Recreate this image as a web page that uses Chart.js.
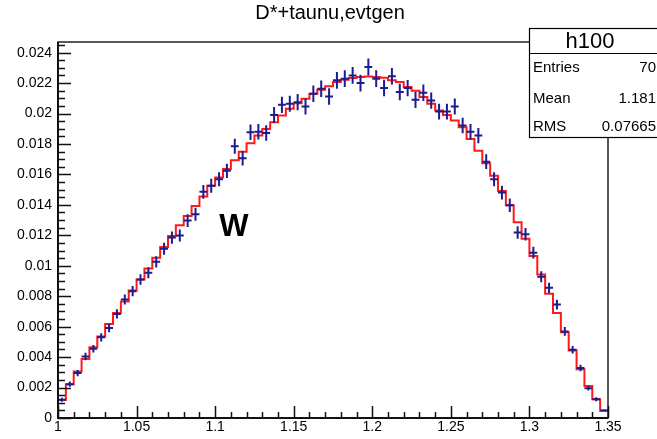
<!DOCTYPE html>
<html>
<head>
<meta charset="utf-8">
<script src="https://cdn.jsdelivr.net/npm/chart.js@4.4.1/dist/chart.umd.min.js"></script>
<style>
  html, body { margin: 0; padding: 0; background: #fff; }
</style>
</head>
<body>
<canvas id="histChart" width="657" height="439"></canvas>
<script>
// binning
const xMin = 1.0;
const xMax = 1.35;
const nBins = 70;
const yMax = 0.0247;

// red histogram (MC shape), one value per bin
const mcValues = [
  0.00119, 0.00222, 0.00305, 0.00387, 0.00464, 0.00536, 0.00618, 0.00690, 0.00765, 0.00837,
  0.00910, 0.00982, 0.01053, 0.01123, 0.01195, 0.01266, 0.01327, 0.01393, 0.01455, 0.01525,
  0.01580, 0.01635, 0.01694, 0.01749, 0.01805, 0.01855, 0.01899, 0.01943, 0.01987, 0.02031,
  0.02068, 0.02097, 0.02130, 0.02156, 0.02180, 0.02207, 0.02222, 0.02233, 0.02240, 0.02244,
  0.02240, 0.02235, 0.02218, 0.02207, 0.02174, 0.02150, 0.02108, 0.02064, 0.02020, 0.01990,
  0.01955, 0.01910, 0.01833, 0.01756, 0.01673, 0.01591, 0.01492, 0.01398, 0.01286, 0.01178,
  0.01064, 0.00943, 0.00816, 0.00690, 0.00563, 0.00444, 0.00321, 0.00211, 0.00123, 0.00048
];

// blue points (evtgen), one value per bin
const dataValues = [
  0.00120, 0.00222, 0.00295, 0.00404, 0.00455, 0.00530, 0.00591, 0.00684, 0.00778, 0.00833,
  0.00910, 0.00954, 0.01026, 0.01112, 0.01185, 0.01199, 0.01297, 0.01338, 0.01486, 0.01525,
  0.01569, 0.01624, 0.01785, 0.01706, 0.01877, 0.01881, 0.01872, 0.01991, 0.02057, 0.02064,
  0.02075, 0.02046, 0.02130, 0.02163, 0.02112, 0.02218, 0.02229, 0.02250, 0.02200, 0.02306,
  0.02229, 0.02168, 0.02245, 0.02141, 0.02167, 0.02090, 0.02136, 0.02085, 0.02013, 0.02013,
  0.02046, 0.01921, 0.01881, 0.01855, 0.01684, 0.01569, 0.01481, 0.01398, 0.01218, 0.01207,
  0.01086, 0.00928, 0.00855, 0.00745, 0.00569, 0.00448, 0.00328, 0.00196, 0.00123, 0.00050
];

// vertical error on blue points
const dataErrors = [
  0.00013, 0.00017, 0.00020, 0.00024, 0.00025, 0.00027, 0.00028, 0.00031, 0.00033, 0.00034,
  0.00035, 0.00036, 0.00037, 0.00039, 0.00040, 0.00040, 0.00042, 0.00043, 0.00045, 0.00046,
  0.00046, 0.00047, 0.00049, 0.00048, 0.00051, 0.00051, 0.00051, 0.00052, 0.00053, 0.00053,
  0.00053, 0.00053, 0.00054, 0.00054, 0.00054, 0.00055, 0.00055, 0.00055, 0.00055, 0.00056,
  0.00055, 0.00054, 0.00055, 0.00054, 0.00054, 0.00053, 0.00054, 0.00053, 0.00052, 0.00052,
  0.00053, 0.00051, 0.00051, 0.00050, 0.00048, 0.00046, 0.00045, 0.00044, 0.00041, 0.00041,
  0.00039, 0.00036, 0.00034, 0.00032, 0.00028, 0.00025, 0.00021, 0.00016, 0.00013, 0.00008
];

const titleText = 'D*+taunu,evtgen';
const statName = 'h100';
const statRows = [['Entries', '70'], ['Mean', '1.181'], ['RMS', '0.07665']];

const binWidth = (xMax - xMin) / nBins;
const FONT = "'Liberation Sans', Arial, Helvetica, sans-serif";

// step outline: left edge of each bin, plus closing point at xMax
const mcPoints = mcValues.map((v, i) => ({ x: xMin + i * binWidth, y: v }));
mcPoints.push({ x: xMax, y: mcValues[mcValues.length - 1] });

const dataPoints = dataValues.map((v, i) => ({ x: xMin + (i + 0.5) * binWidth, y: v, e: dataErrors[i] }));

function fmt(v) {
  return String(Number(v.toFixed(4)));
}

// crosses with error bars for the blue series
const errorBars = {
  id: 'errorBars',
  afterDatasetsDraw(chart) {
    const ctx = chart.ctx;
    const xs = chart.scales.x, ys = chart.scales.y;
    const area = chart.chartArea;
    ctx.save();
    ctx.beginPath();
    ctx.rect(area.left, area.top, area.right - area.left, area.bottom - area.top);
    ctx.clip();
    ctx.strokeStyle = '#1c1c8e';
    ctx.lineWidth = 2;
    chart.data.datasets[1].data.forEach(p => {
      const cx = xs.getPixelForValue(p.x);
      const cy = ys.getPixelForValue(p.y);
      const x0 = xs.getPixelForValue(p.x - binWidth / 2);
      const x1 = xs.getPixelForValue(p.x + binWidth / 2);
      const y0 = ys.getPixelForValue(p.y - p.e);
      const y1 = ys.getPixelForValue(p.y + p.e);
      ctx.beginPath();
      ctx.moveTo(x0, cy); ctx.lineTo(x1, cy);
      ctx.moveTo(cx, y0); ctx.lineTo(cx, y1);
      ctx.stroke();
    });
    ctx.restore();
  }
};

// ROOT style frame, inside ticks, title, stats box and label
const rootDecor = {
  id: 'rootDecor',
  afterDraw(chart) {
    const ctx = chart.ctx;
    const xs = chart.scales.x, ys = chart.scales.y;
    const a = chart.chartArea;
    ctx.save();

    // frame
    ctx.strokeStyle = '#222';
    ctx.lineWidth = 1.5;
    ctx.strokeRect(a.left, a.top, a.right - a.left, a.bottom - a.top);
    ctx.lineWidth = 2;
    ctx.strokeStyle = '#111';
    ctx.beginPath();
    ctx.moveTo(a.left, a.top); ctx.lineTo(a.left, a.bottom); ctx.lineTo(a.right, a.bottom);
    ctx.stroke();

    // y ticks
    ctx.lineWidth = 1.5;
    ctx.beginPath();
    for (let k = 0; k * 0.0005 <= yMax + 1e-9; k++) {
      const py = Math.round(ys.getPixelForValue(k * 0.0005)) + 0.5;
      const len = (k % 4 === 0) ? 13 : 7;
      ctx.moveTo(a.left, py); ctx.lineTo(a.left + len, py);
    }
    // x ticks
    for (let k = 0; xMin + k * 0.01 <= xMax + 1e-9; k++) {
      const px = Math.round(xs.getPixelForValue(xMin + k * 0.01)) + 0.5;
      const len = (k % 5 === 0) ? 12 : 6;
      ctx.moveTo(px, a.bottom); ctx.lineTo(px, a.bottom - len);
    }
    ctx.stroke();

    // title
    ctx.fillStyle = '#000';
    ctx.font = '20px ' + FONT;
    ctx.textAlign = 'center';
    ctx.textBaseline = 'middle';
    ctx.fillText(titleText, 330, 13);

    // stats box
    const bx = 529.5, by = 28.5, bw = 140, bh = 109;
    ctx.fillStyle = '#fff';
    ctx.fillRect(bx, by, bw, bh);
    ctx.strokeStyle = '#000';
    ctx.lineWidth = 1.2;
    ctx.strokeRect(bx, by, bw, bh);
    ctx.beginPath();
    ctx.moveTo(bx, 53.5); ctx.lineTo(bx + bw, 53.5);
    ctx.stroke();
    ctx.fillStyle = '#000';
    ctx.font = '22px ' + FONT;
    ctx.textAlign = 'center';
    ctx.fillText(statName, 590, 42);
    ctx.font = '15px ' + FONT;
    const rowY = [68, 99, 127];
    statRows.forEach((r, i) => {
      ctx.textAlign = 'left';
      ctx.fillText(r[0], 533, rowY[i]);
      ctx.textAlign = 'right';
      ctx.fillText(r[1], 656, rowY[i]);
    });

    // W label
    ctx.font = 'bold 31px ' + FONT;
    ctx.textAlign = 'center';
    ctx.fillText('W', 234, 227);

    ctx.restore();
  }
};

new Chart(document.getElementById('histChart'), {
  data: {
    datasets: [
      {
        type: 'line',
        label: 'MC',
        data: mcPoints,
        stepped: true,
        borderColor: '#ff1a1a',
        borderWidth: 2,
        pointRadius: 0,
        fill: false
      },
      {
        type: 'scatter',
        label: 'evtgen',
        data: dataPoints,
        pointRadius: 0,
        showLine: false
      }
    ]
  },
  options: {
    responsive: false,
    devicePixelRatio: 1,
    animation: false,
    events: [],
    layout: { padding: { top: 42, right: 49, left: 0, bottom: 0 } },
    plugins: {
      legend: { display: false },
      title: { display: false },
      tooltip: { enabled: false }
    },
    scales: {
      x: {
        type: 'linear',
        min: xMin,
        max: xMax,
        grid: { display: false, drawTicks: false, tickLength: 0 },
        border: { display: false },
        ticks: {
          stepSize: 0.05,
          color: '#000',
          font: { family: FONT, size: 14 },
          padding: 1,
          maxRotation: 0,
          autoSkip: false,
          callback: v => fmt(v)
        },
        afterFit: s => { s.height = 21; }
      },
      y: {
        type: 'linear',
        min: 0,
        max: yMax,
        grid: { display: false, drawTicks: false, tickLength: 0 },
        border: { display: false },
        ticks: {
          stepSize: 0.002,
          includeBounds: false,
          color: '#000',
          font: { family: FONT, size: 14 },
          padding: 6,
          autoSkip: false,
          callback: v => fmt(v)
        },
        afterFit: s => { s.width = 58; }
      }
    }
  },
  plugins: [errorBars, rootDecor]
});
</script>
</body>
</html>
